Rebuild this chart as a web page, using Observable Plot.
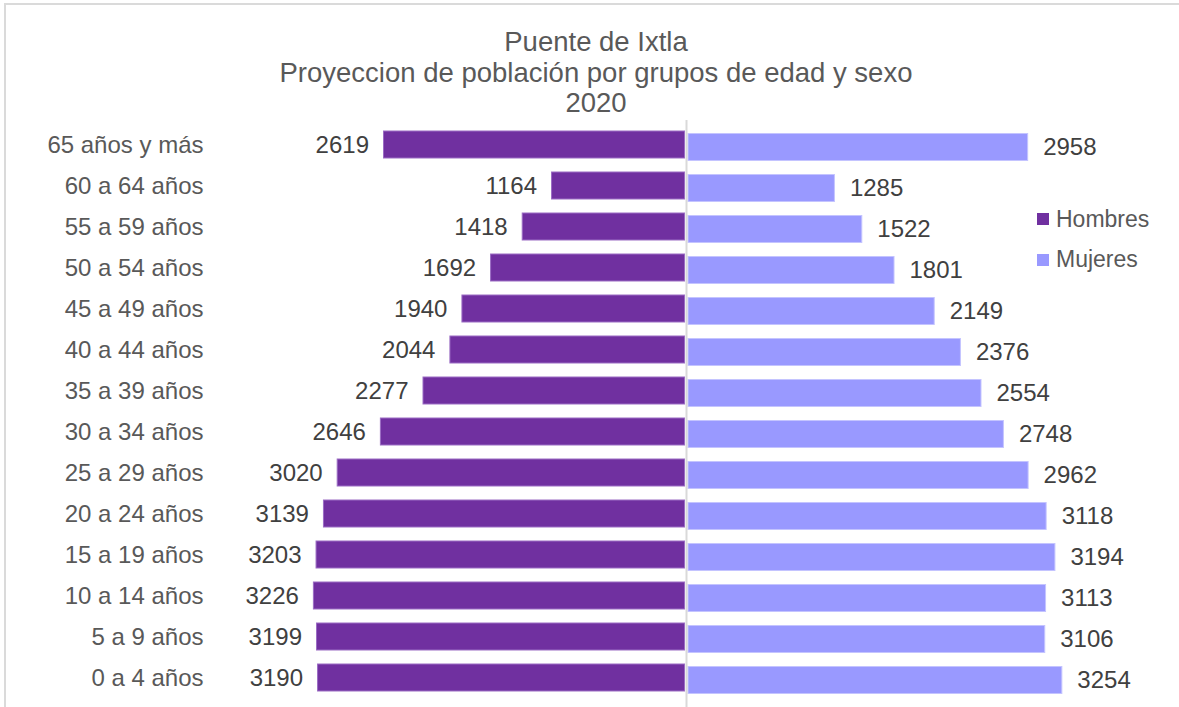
<!DOCTYPE html>
<html>
<head>
<meta charset="utf-8">
<script src="https://cdn.jsdelivr.net/npm/d3@7"></script>
<script src="https://cdn.jsdelivr.net/npm/@observablehq/plot@0.6"></script>
<style>
  html, body { margin: 0; padding: 0; background: #fff; }
  #wrap { position: relative; width: 1179px; height: 707px; overflow: hidden; font-family: "Liberation Sans", Arial, sans-serif; }
  #frame { position: absolute; left: 4px; top: 3px; width: 1300px; height: 800px; border-left: 2px solid #dadada; border-top: 2px solid #dadada; }
  #title { position: relative; height: 110px; box-sizing: border-box; padding-top: 27px; padding-left: 13px; text-align: center; color: #595959; font-size: 27.5px; line-height: 30.5px; }
  #legend { position: absolute; left: 1037px; top: 203px; color: #595959; font-size: 23px; }
  .li { display: flex; align-items: center; height: 32px; margin-bottom: 8.5px; }
  .sw { width: 12px; height: 12px; margin-right: 7px; }
  #chart { position: relative; }
</style>
</head>
<body>
<div id="wrap">
  <div id="frame"></div>
  <div id="title"></div>
  <div id="chart"></div>
  <div id="legend"></div>
</div>
<script>
const titleLines = ["Puente de Ixtla", "Proyeccion de población por grupos de edad y sexo", "2020"];
const categories = ["65 años y más", "60 a 64 años", "55 a 59 años", "50 a 54 años", "45 a 49 años", "40 a 44 años", "35 a 39 años", "30 a 34 años", "25 a 29 años", "20 a 24 años", "15 a 19 años", "10 a 14 años", "5 a 9 años", "0 a 4 años"];
const hombres = [2619, 1164, 1418, 1692, 1940, 2044, 2277, 2646, 3020, 3139, 3203, 3226, 3199, 3190];
const mujeres = [2958, 1285, 1522, 1801, 2149, 2376, 2554, 2748, 2962, 3118, 3194, 3113, 3106, 3254];
const seriesNames = ["Hombres", "Mujeres"];
const seriesColors = ["#7030A0", "#9999FF"];

document.getElementById("title").innerHTML = titleLines.map(t => `<div>${t}</div>`).join("");

const hData = categories.map((c, i) => ({cat: c, v: hombres[i]}));
const mData = categories.map((c, i) => ({cat: c, v: mujeres[i]}));

const k = 0.1155;
const center = 686;
const H = 597;

const chart = Plot.plot({
  width: 1179,
  height: H,
  marginTop: 19,
  marginBottom: 14.5,
  marginLeft: 210,
  marginRight: 0,
  style: {fontFamily: "'Liberation Sans', Arial, sans-serif", fontSize: "24px", color: "#595959", background: "transparent"},
  x: {domain: [-3500, 3500], range: [center - 3500 * k, center + 3500 * k], axis: null},
  y: {type: "band", domain: categories, range: [19, H - 14.5], paddingInner: 0.346, paddingOuter: 0, label: null},
  marks: [
    Plot.barX(hData, {y: "cat", x1: 0, x2: d => -d.v, fill: seriesColors[0], stroke: "#9b6cc4", strokeWidth: 1, insetRight: 1.5}),
    Plot.barX(mData, {y: "cat", x1: 0, x2: d => d.v, fill: seriesColors[1], stroke: "#c4c4ff", strokeWidth: 1, insetLeft: 2, insetTop: 2.5, insetBottom: -2.5}),
    Plot.ruleX([0], {stroke: "#d9d9d9", strokeWidth: 2, insetTop: -9, insetBottom: -16}),
    Plot.text(hData, {y: "cat", x: d => -d.v, text: d => String(d.v), textAnchor: "end", dx: -15, fill: "#404040", fontSize: 24}),
    Plot.text(mData, {y: "cat", x: d => d.v, text: d => String(d.v), textAnchor: "start", dx: 15, dy: 2.5, fill: "#404040", fontSize: 24}),
    Plot.axisY({tickSize: 0, tickPadding: 7, label: null, fontSize: 24})
  ]
});
document.getElementById("chart").appendChild(chart);

document.getElementById("legend").innerHTML = seriesNames.map((n, i) =>
  `<div class="li"><div class="sw" style="background:${seriesColors[i]}"></div><span>${n}</span></div>`).join("");
</script>
</body>
</html>
